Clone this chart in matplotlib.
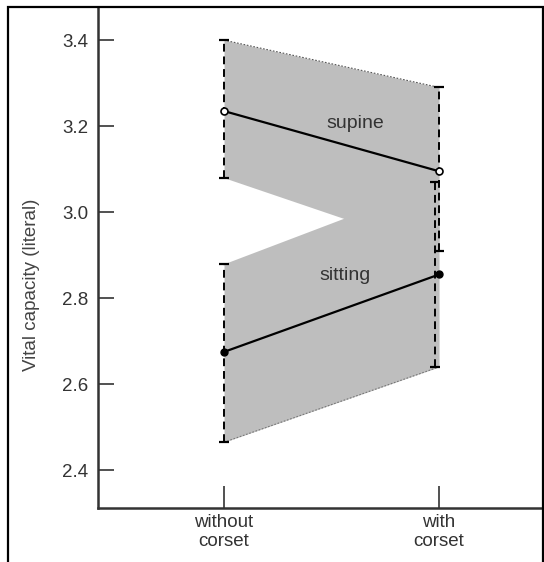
"""Vital capacity with and without corset, supine vs sitting."""

import matplotlib
matplotlib.use("Agg")
import matplotlib.pyplot as plt  # noqa: E402
from matplotlib.patches import Rectangle  # noqa: E402

plt.rcParams["font.family"] = ["Liberation Sans", "DejaVu Sans"]

CONDITIONS = ["without\ncorset", "with\ncorset"]
XPOS = [0, 1]

SUPINE_MEAN = [3.235, 3.095]
SUPINE_LOW = [3.08, 2.91]
SUPINE_HIGH = [3.40, 3.29]

SITTING_MEAN = [2.675, 2.855]
SITTING_LOW = [2.465, 2.64]
SITTING_HIGH = [2.88, 3.07]

YTICKS = [2.4, 2.6, 2.8, 3.0, 3.2, 3.4]

FILL = "#bebebe"
INK = "#333333"


def draw_bars(ax, xs, mean, low, high):
    yerr = [[m - lo for m, lo in zip(mean, low)],
            [hi - m for m, hi in zip(mean, high)]]
    _, caps, bars = ax.errorbar(xs, mean, yerr=yerr, fmt="none", ecolor="black",
                                elinewidth=1.4, capsize=3.8, capthick=1.6, zorder=3)
    for b in bars:
        b.set_linestyle((0, (4, 2.5)))


def main():
    fig = plt.figure(figsize=(5.44, 5.62), dpi=100)
    ax = fig.add_axes([98 / 544, 54 / 562, 446 / 544, 501 / 562])

    # shaded bands (union of the two ranges)
    for low, high in ((SUPINE_LOW, SUPINE_HIGH), (SITTING_LOW, SITTING_HIGH)):
        ax.fill_between(XPOS, low, high, color=FILL, lw=0, zorder=1)
    ax.plot(XPOS, SUPINE_HIGH, color="#555555", lw=0.8, ls=(0, (1.5, 1.5)), zorder=2)
    ax.plot(XPOS, SITTING_LOW, color="#777777", lw=0.8, ls=(0, (1.5, 1.5)), zorder=2)

    draw_bars(ax, XPOS, SUPINE_MEAN, SUPINE_LOW, SUPINE_HIGH)
    draw_bars(ax, [XPOS[0], XPOS[1] - 0.02], SITTING_MEAN, SITTING_LOW, SITTING_HIGH)

    ax.plot(XPOS, SUPINE_MEAN, color="black", lw=1.6, marker="o", ms=5,
            mfc="white", mec="black", mew=1.2, zorder=4)
    ax.plot(XPOS, SITTING_MEAN, color="black", lw=1.6, marker="o", ms=5,
            mfc="black", mec="black", zorder=4)

    ax.text(0.61, 3.205, "supine", ha="center", va="center", fontsize=14, color=INK)
    ax.text(0.565, 2.852, "sitting", ha="center", va="center", fontsize=14, color=INK)

    ax.set_xlim(-0.586, 1.488)
    ax.set_ylim(2.312, 3.477)
    ax.set_xticks(XPOS)
    ax.set_xticklabels(CONDITIONS, fontsize=13.5, color=INK)
    ax.set_yticks(YTICKS)
    ax.set_yticklabels([f"{v:.1f}" for v in YTICKS], fontsize=13.5, color=INK)
    ax.tick_params(axis="y", direction="in", length=11.5, width=1.2, pad=7, color=INK)
    ax.tick_params(axis="x", direction="in", length=16, width=1.2, pad=4, color=INK)
    ax.set_ylabel("Vital capacity (literal)", fontsize=13.5, color="#444444")
    ax.yaxis.set_label_coords(-0.13, 0.445)

    for side in ("top", "right"):
        ax.spines[side].set_visible(False)
    for side in ("left", "bottom"):
        ax.spines[side].set_linewidth(1.8)
        ax.spines[side].set_color(INK)

    # outer frame of the figure
    fig.patches.append(Rectangle((8 / 544, -0.01), 535 / 544, 1.01 - 6.5 / 562,
                                 transform=fig.transFigure, fill=False,
                                 edgecolor="black", lw=1.6))

    fig.savefig("out.png", dpi=100)
    plt.close(fig)


if __name__ == "__main__":
    main()
